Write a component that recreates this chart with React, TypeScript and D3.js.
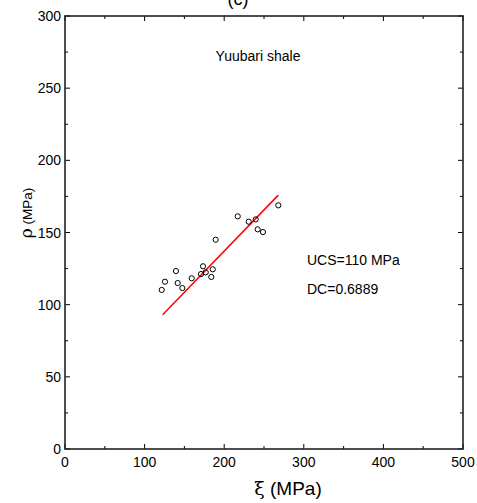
import React from "react";
import * as d3 from "d3";

// measured points (xi, rho) in MPa
const xiValues = [121.5, 125.6, 139.4, 141.6, 147.4, 159.2, 170.9, 173.4, 176.8, 183.8, 185.6, 189.3, 217.0, 230.8, 239.6, 242.1, 248.7, 268.0];
const rhoValues = [110.2, 115.9, 123.3, 115.0, 111.5, 118.3, 121.2, 126.6, 122.4, 119.2, 124.5, 145.0, 161.2, 157.5, 159.1, 152.2, 150.3, 168.8];

// fitted line end points
const fitXi = [122.7, 268.0];
const fitRho = [93.0, 175.9];

const xTicks = [0, 100, 200, 300, 400, 500];
const yTicks = [0, 50, 100, 150, 200, 250, 300];

const width = 477;
const height = 503;
const margin = { top: 16, right: 14, bottom: 54, left: 65 };

export default function App() {
  const x = d3.scaleLinear().domain([0, 500]).range([margin.left, width - margin.right]);
  const y = d3.scaleLinear().domain([0, 300]).range([height - margin.bottom, margin.top]);

  const x0 = x(0);
  const x1 = x(500);
  const y0 = y(0);
  const y1 = y(300);

  const xMinor = d3.range(0, 501, 50);
  const yMinor = d3.range(0, 301, 25);

  const line = d3
    .line<number>()
    .x((d, i) => x(fitXi[i]))
    .y((d) => y(d));

  const font = "Liberation Sans, Arial, sans-serif";

  return (
    <svg width={width} height={height} style={{ position: "absolute", left: 0, top: 0, background: "#fff" }}>
      <text x={238} y={5} textAnchor="middle" fontFamily={font} fontSize={18} fill="#000">
        (c)
      </text>

      {/* ticks, inward on all sides */}
      {xMinor.map((t) => {
        const len = t % 100 === 0 ? 5 : 3;
        return (
          <g key={"xt" + t} stroke="#000" strokeWidth={1}>
            <line x1={x(t)} x2={x(t)} y1={y0} y2={y0 - len} />
            <line x1={x(t)} x2={x(t)} y1={y1} y2={y1 + len} />
          </g>
        );
      })}
      {yMinor.map((t) => {
        const len = t % 50 === 0 ? 5 : 3;
        return (
          <g key={"yt" + t} stroke="#000" strokeWidth={1}>
            <line x1={x0} x2={x0 + len} y1={y(t)} y2={y(t)} />
            <line x1={x1} x2={x1 - len} y1={y(t)} y2={y(t)} />
          </g>
        );
      })}

      <rect x={x0} y={y1} width={x1 - x0} height={y0 - y1} fill="none" stroke="#222" strokeWidth={1.6} />

      {xTicks.map((t) => (
        <text key={"xl" + t} x={x(t)} y={y0 + 18} textAnchor="middle" fontFamily={font} fontSize={14} fill="#000">
          {t}
        </text>
      ))}
      {yTicks.map((t) => (
        <text key={"yl" + t} x={x0 - 4} y={y(t) + 5} textAnchor="end" fontFamily={font} fontSize={14} fill="#000">
          {t}
        </text>
      ))}

      <text x={288} y={495} textAnchor="middle" fontFamily={font} fontSize={19} fill="#000">
        <tspan fontFamily="DejaVu Serif, serif">ξ</tspan> (MPa)
      </text>
      <text
        transform={`translate(32, 213) rotate(-90)`}
        textAnchor="middle"
        fontFamily={font}
        fontSize={13.5}
        fill="#000"
      >
        <tspan fontFamily="DejaVu Serif, serif" fontSize={17}>ρ</tspan> (MPa)
      </text>

      <text x={258} y={61} textAnchor="middle" fontFamily={font} fontSize={14} fill="#000">
        Yuubari shale
      </text>
      <text x={307} y={265} fontFamily={font} fontSize={14} fill="#000">
        UCS=110 MPa
      </text>
      <text x={307} y={294} fontFamily={font} fontSize={14} fill="#000">
        DC=0.6889
      </text>

      <path d={line(fitRho) || ""} fill="none" stroke="#f00" strokeWidth={1.5} />

      {xiValues.map((v, i) => (
        <circle key={"p" + i} cx={x(v)} cy={y(rhoValues[i])} r={2.6} fill="none" stroke="#000" strokeWidth={1} />
      ))}
    </svg>
  );
}
